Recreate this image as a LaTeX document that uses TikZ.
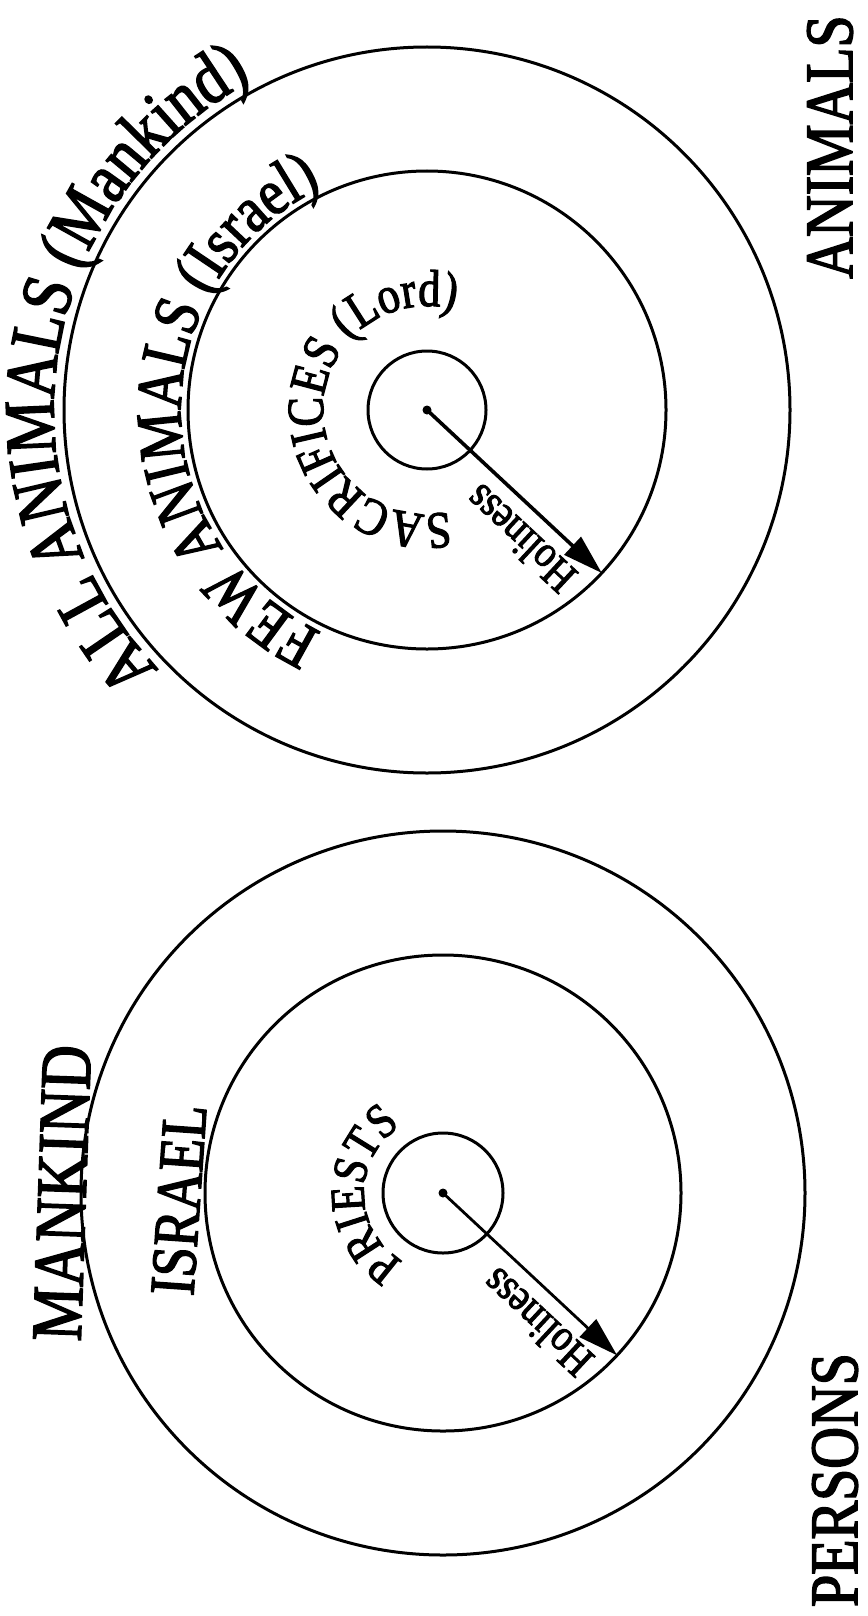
\documentclass[tikz,border=0pt]{standalone}
\usepackage{fontspec}
\setmainfont{Liberation Serif}
\newfontfamily\reffont{Liberation Serif}[FakeStretch=0.85,FakeBold=2.2]
\usetikzlibrary{decorations.text,arrows.meta,calc}
\begin{document}
\begin{tikzpicture}[x=1pt,y=1pt,
  ring/.style={draw=black,line width=3pt},
  holyarrow/.style={line width=#1,-{Triangle[length=40pt,width=24pt]}},
  dotc/.style={circle,fill=black,inner sep=0pt,minimum size=9pt},
  bigword/.style={font=\reffont\fontsize{68}{70}\selectfont,inner sep=0pt},
  holylabel/.style={font=\reffont\fontsize{45}{47}\selectfont,inner sep=0pt,rotate=137},
  curved/.style={decorate,decoration={text along path,text align=center,text={#1}}}
]
\useasboundingbox (0,0) rectangle (867,-1616);
\fill[white] (0,0) rectangle (867,-1616);

% ---------- top figure: animals ----------
\node[dotc] (c1) at (427,-410) {};
\draw[ring] (c1.center) circle[radius=59pt];
\draw[ring] (c1.center) circle[radius=239pt];
\draw[ring] (c1.center) circle[radius=363pt];
\path (c1.center) ++(-43:239pt) coordinate (t1);
\draw[holyarrow=3.6pt] (c1.center) -- (t1);
\node[holylabel] (h1) at ($(c1.center)+(-43:156pt)+(-133:31pt)$) {Holiness};

\path[curved={|\reffont\fontsize{72}{74}\selectfont|ALL ANIMALS (Mankind)}]
  (c1.center) ++(251:373pt) arc[start angle=251,end angle=91,radius=373pt];
\path[curved={|\reffont\fontsize{65}{67}\selectfont|FEW ANIMALS (Israel)}]
  (c1.center) ++(270:246pt) arc[start angle=270,end angle=90,radius=246pt];
\path[curved={|\reffont\fontsize{52}{54}\selectfont|SACRIFICES (Lord)}]
  (c1.center) ++(298.5:104pt) arc[start angle=298.5,end angle=58.5,radius=104pt];

\node[bigword,rotate=90] (animals) at (830,-147) {ANIMALS};

% ---------- bottom figure: persons ----------
\node[dotc] (c2) at (443,-1193) {};
\draw[ring] (c2.center) circle[radius=60pt];
\draw[ring] (c2.center) circle[radius=238pt];
\draw[ring] (c2.center) circle[radius=362pt];
\path (c2.center) ++(-43:238pt) coordinate (t2);
\draw[holyarrow=2.8pt] (c2.center) -- (t2);
\node[holylabel] (h2) at ($(c2.center)+(-43:157pt)+(-133:31pt)$) {Holiness};

\path[curved={|\reffont\fontsize{49}{51}\selectfont|PRIESTS}]
  (c2.center) ++(261:79pt) arc[start angle=261,end angle=101,radius=79pt];

\node[font=\reffont\fontsize{72}{74}\selectfont,inner sep=0pt,rotate=88] (mankind) at (62,-1193) {MANKIND};
\node[font=\reffont\fontsize{64}{66}\selectfont,inner sep=0pt,rotate=86] (israel) at (179,-1200) {ISRAEL};
\node[bigword,rotate=90] (persons) at (835,-1480) {PERSONS};
\end{tikzpicture}
\end{document}
